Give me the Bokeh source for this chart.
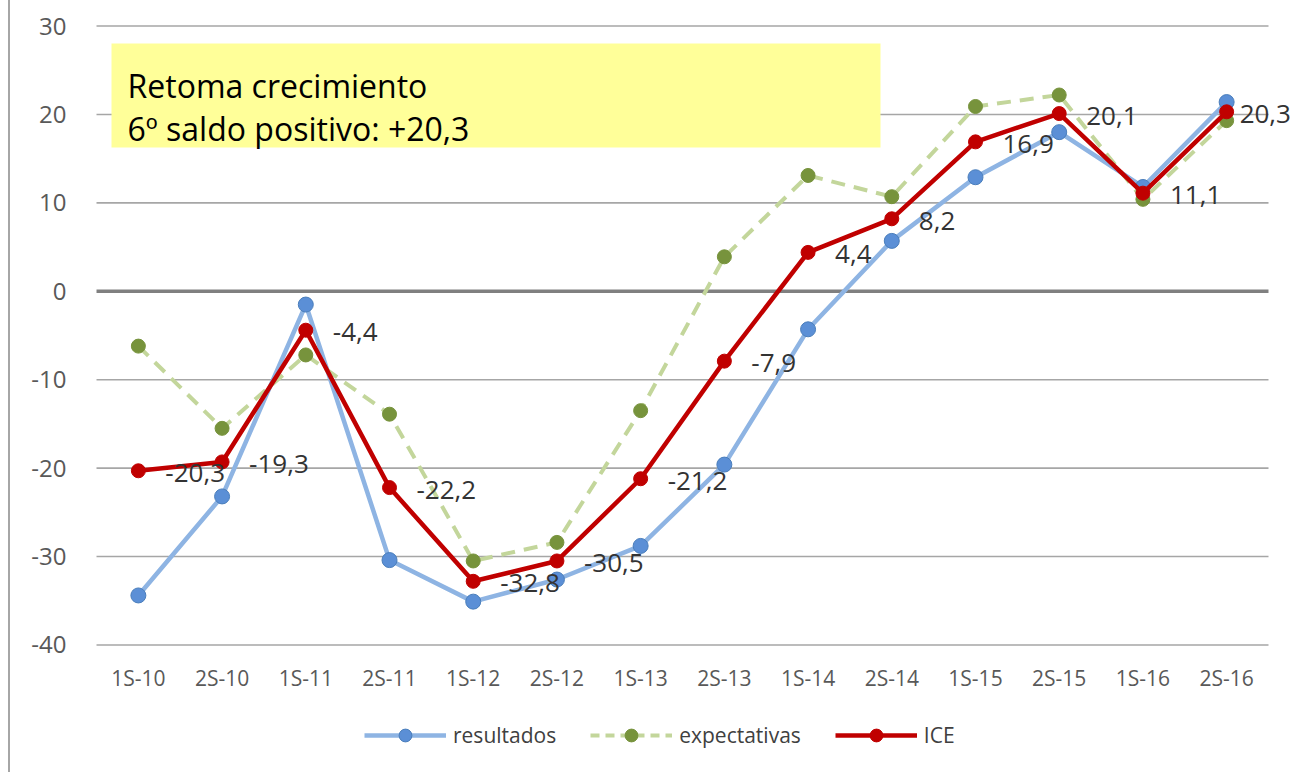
from bokeh.plotting import figure
from bokeh.layouts import column
from bokeh.models import (FactorRange, Range1d, ColumnDataSource, LabelSet, Legend,
                          LegendItem, BoxAnnotation, Label, FixedTicker)
from bokeh.embed import file_html
from bokeh.resources import INLINE
from bokeh.core.properties import value

# ---------------- data ----------------
periods = ["1S-10", "2S-10", "1S-11", "2S-11", "1S-12", "2S-12", "1S-13",
           "2S-13", "1S-14", "2S-14", "1S-15", "2S-15", "1S-16", "2S-16"]
resultados = [-34.4, -23.2, -1.5, -30.4, -35.1, -32.6, -28.8,
              -19.6, -4.3, 5.7, 12.9, 18.0, 11.8, 21.4]
expectativas = [-6.2, -15.5, -7.2, -13.9, -30.5, -28.4, -13.5,
                3.9, 13.1, 10.7, 20.9, 22.2, 10.4, 19.3]
ice = [-20.3, -19.3, -4.4, -22.2, -32.8, -30.5, -21.2,
       -7.9, 4.4, 8.2, 16.9, 20.1, 11.1, 20.3]
ice_labels = [f"{v:.1f}".replace(".", ",") for v in ice]
y_ticks = [-40, -30, -20, -10, 0, 10, 20, 30]
series_names = ["resultados", "expectativas", "ICE"]
note_lines = ["Retoma crecimiento", "6º saldo positivo: +20,3"]

# label shift (px) to the right of each ICE point; last one pulled in to fit
label_dx = [27] * 13 + [13]

src = ColumnDataSource(dict(period=periods, resultados=resultados,
                            expectativas=expectativas, ice=ice, ice_label=ice_labels,
                            dx=label_dx))

FONT = "Open Sans"
W = 1287

# series styles
BLUE_LINE, BLUE_FILL, BLUE_EDGE = "#8EB4E3", "#5B8FD6", "#4A7EBB"
GREEN_LINE, GREEN_FILL = "#C3D69B", "#77933C"
RED = "#C00000"

p = figure(x_range=FactorRange(*periods, range_padding=0.3465, range_padding_units="absolute"),
           y_range=Range1d(y_ticks[0] - 0.4, y_ticks[-1] + 0.4),
           width=W, height=700, output_backend="svg", toolbar_location=None,
           min_border_left=57, min_border_right=0, min_border_top=22, min_border_bottom=52)
p.outline_line_color = None
p.background_fill_color = "white"
p.border_fill_color = "white"

# axes
p.yaxis.ticker = FixedTicker(ticks=y_ticks)
p.yaxis.major_label_overrides = {t: str(t) for t in y_ticks}
p.yaxis.axis_line_color = None
p.yaxis.major_tick_line_color = None
p.yaxis.minor_tick_line_color = None
p.yaxis.major_tick_out = 0
p.yaxis.major_tick_in = 0
p.yaxis.major_label_standoff = 1
p.yaxis.major_label_text_font = FONT
p.yaxis.major_label_text_font_size = "24px"
p.yaxis.major_label_text_color = "#595959"

p.xaxis.axis_line_color = None
p.xaxis.major_tick_line_color = None
p.xaxis.minor_tick_line_color = None
p.xaxis.major_tick_out = 0
p.xaxis.major_tick_in = 0
p.xaxis.major_label_standoff = 15
p.xaxis.major_label_text_font = FONT
p.xaxis.major_label_text_font_size = "21px"
p.xaxis.major_label_text_color = "#595959"

p.xgrid.grid_line_color = None
p.ygrid.grid_line_color = None

# horizontal gridlines spanning the category area (synthetic coords 0..n)
n = len(periods)
grid_y = [t for t in y_ticks if t != 0]
p.segment(x0=[0] * len(grid_y), x1=[n] * len(grid_y), y0=grid_y, y1=grid_y,
          line_color="#a6a6a6", line_width=1.6)
p.segment(x0=[0], x1=[n], y0=[0], y1=[0], line_color="#808080", line_width=3.5)

# series
r1l = p.line("period", "resultados", source=src, line_color=BLUE_LINE, line_width=4.5)
r1s = p.scatter("period", "resultados", source=src, size=15, fill_color=BLUE_FILL,
                line_color=BLUE_EDGE, line_width=1)
r2l = p.line("period", "expectativas", source=src, line_color=GREEN_LINE, line_width=4,
             line_dash="14 9")
r2s = p.scatter("period", "expectativas", source=src, size=14, fill_color=GREEN_FILL,
                line_color=GREEN_FILL)
r3l = p.line("period", "ice", source=src, line_color=RED, line_width=4.5)
r3s = p.scatter("period", "ice", source=src, size=14, fill_color=RED, line_color=RED)

labels = LabelSet(x="period", y="ice", text="ice_label", source=src, x_offset="dx", y_offset=-2,
                  text_align="left", text_baseline="middle", text_font=value(FONT),
                  text_font_size="26px", text_color="#333333")
p.add_layout(labels)

# annotation box (screen units relative to the plot frame)
p.add_layout(BoxAnnotation(left=44, right=813, top=605, bottom=501,
                           left_units="screen", right_units="screen",
                           top_units="screen", bottom_units="screen",
                           fill_color="#FFFF99", fill_alpha=1, line_color=None))
p.add_layout(Label(x=60, y=563, x_units="screen", y_units="screen", text=note_lines[0],
                   text_font=FONT, text_font_size="32px", text_color="#000000",
                   text_baseline="alphabetic"))
p.add_layout(Label(x=60, y=520, x_units="screen", y_units="screen", text=note_lines[1],
                   text_font=FONT, text_font_size="32px", text_color="#000000",
                   text_baseline="alphabetic"))

# legend strip below the chart (proxy glyphs sit outside the visible range)
lf = figure(width=W, height=72, output_backend="svg", toolbar_location=None,
            x_axis_type=None, y_axis_type=None, min_border=0,
            x_range=Range1d(0, 1), y_range=Range1d(0, 1))
lf.outline_line_color = None
lf.xgrid.grid_line_color = None
lf.ygrid.grid_line_color = None
lsrc = ColumnDataSource(dict(x=[-5], y=[-5]))
l1l = lf.line("x", "y", source=lsrc, line_color=BLUE_LINE, line_width=4.5)
l1s = lf.scatter("x", "y", source=lsrc, fill_color=BLUE_FILL, line_color=BLUE_EDGE)
l2l = lf.line("x", "y", source=lsrc, line_color=GREEN_LINE, line_width=4, line_dash="9 6")
l2s = lf.scatter("x", "y", source=lsrc, fill_color=GREEN_FILL, line_color=GREEN_FILL)
l3l = lf.line("x", "y", source=lsrc, line_color=RED, line_width=4.5)
l3s = lf.scatter("x", "y", source=lsrc, fill_color=RED, line_color=RED)

legend = Legend(items=[LegendItem(label=series_names[0], renderers=[l1l, l1s]),
                       LegendItem(label=series_names[1], renderers=[l2l, l2s]),
                       LegendItem(label=series_names[2], renderers=[l3l, l3s])],
                orientation="horizontal", location=(297, 21),
                glyph_width=82, glyph_height=32, label_standoff=7, spacing=34,
                label_text_font=FONT, label_text_font_size="21px", label_text_color="#404040",
                border_line_color=None, background_fill_alpha=0, padding=0, margin=0)
lf.add_layout(legend, "center")

layout = column(p, lf, spacing=0,
                styles={"margin-left": "8px", "border-left": "2px solid #a6a6a6"})

open("out.html", "w").write(file_html(layout, INLINE))
